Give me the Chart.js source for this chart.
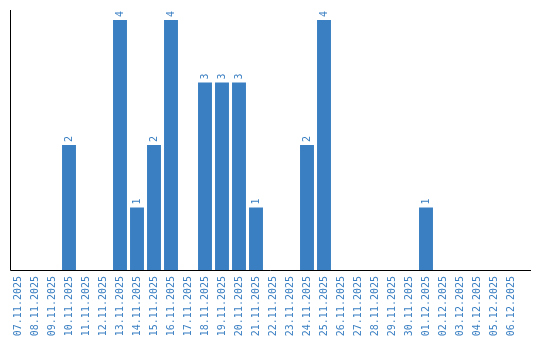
<!doctype html>
<html>
    <head>
        <meta charset="utf-8">
        <title>Daily counts</title>
        <script src="https://cdn.jsdelivr.net/npm/chart.js@4.4.1/dist/chart.umd.min.js"></script>
        <style>
            html, body { margin: 0; padding: 0; background: #fff; }
            .chartContainer { width: 540px; height: 340px; }
        </style>
    </head>
    <body>
        <div class="chartContainer">
            <canvas id="countChart"></canvas>
        </div>

        <script>
        // categories (days)
        var days = ['07.11.2025','08.11.2025','09.11.2025','10.11.2025','11.11.2025','12.11.2025',
                    '13.11.2025','14.11.2025','15.11.2025','16.11.2025','17.11.2025','18.11.2025',
                    '19.11.2025','20.11.2025','21.11.2025','22.11.2025','23.11.2025','24.11.2025',
                    '25.11.2025','26.11.2025','27.11.2025','28.11.2025','29.11.2025','30.11.2025',
                    '01.12.2025','02.12.2025','03.12.2025','04.12.2025','05.12.2025','06.12.2025'];
        // values per day
        var counts = [0,0,0,2,0,0,4,1,2,4,0,3,3,3,1,0,0,2,4,0,0,0,0,0,1,0,0,0,0,0];

        var blue = '#3a7fc2';
        var monoFont = '"DejaVu Sans Mono", monospace';

        // axis lines + rotated value labels
        var extras = {
            id: 'extras',
            afterDatasetsDraw: function(chart) {
                var ctx = chart.ctx;
                var area = chart.chartArea;
                ctx.save();
                ctx.strokeStyle = '#000';
                ctx.lineWidth = 1;
                ctx.beginPath();
                ctx.moveTo(10.5, area.top);
                ctx.lineTo(10.5, area.bottom + 0.5);
                ctx.lineTo(531, area.bottom + 0.5);
                ctx.stroke();

                ctx.fillStyle = blue;
                ctx.font = '10px ' + monoFont;
                ctx.textAlign = 'left';
                ctx.textBaseline = 'middle';
                var meta = chart.getDatasetMeta(0);
                meta.data.forEach(function(bar, i) {
                    if (!counts[i]) return;
                    ctx.save();
                    ctx.translate(bar.x, bar.y - 3);
                    ctx.rotate(-Math.PI / 2);
                    ctx.fillText(String(counts[i]), 0, 0);
                    ctx.restore();
                });
                ctx.restore();
            }
        };

        var countChart = new Chart(document.getElementById('countChart'), {
            type: 'bar',
            data: {
                labels: days,
                datasets: [{
                    data: counts,
                    backgroundColor: blue,
                    borderWidth: 0,
                    categoryPercentage: 1,
                    barPercentage: 0.82
                }]
            },
            options: {
                responsive: true,
                maintainAspectRatio: false,
                animation: false,
                layout: {
                    padding: { left: 9.5, right: 20.5, top: 10, bottom: 0 }
                },
                scales: {
                    x: {
                        grid: { display: false, drawTicks: false },
                        border: { display: false },
                        ticks: {
                            color: blue,
                            font: { family: monoFont, size: 10 },
                            minRotation: 90,
                            maxRotation: 90,
                            autoSkip: false,
                            padding: 6
                        },
                        afterFit: function(scale) { scale.height = 70; }
                    },
                    y: {
                        display: false,
                        min: 0,
                        max: 4.16
                    }
                },
                plugins: {
                    legend: { display: false },
                    tooltip: { enabled: false }
                }
            },
            plugins: [extras]
        });
        </script>
    </body>
</html>
